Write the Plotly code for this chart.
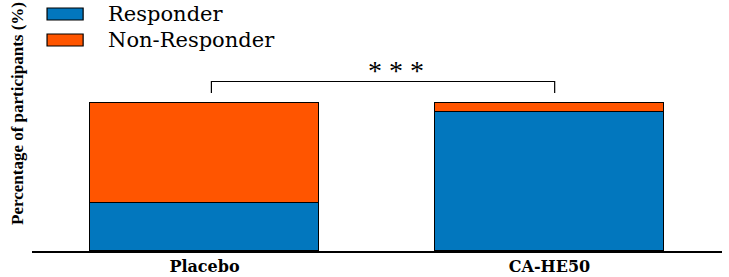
import plotly.graph_objects as go

groups = ["Placebo", "CA-HE50"]
responder = [32.4, 94.1]
non_responder = [67.6, 5.9]
series_names = ["Responder", "Non-Responder"]
colors = ["#0277BE", "#FF5500"]
sig_label = "* * *"

fig = go.Figure()
fig.add_trace(go.Bar(x=groups, y=responder, name=series_names[0],
                     marker=dict(color=colors[0], line=dict(color="black", width=1.2)),
                     width=0.666, showlegend=False))
fig.add_trace(go.Bar(x=groups, y=non_responder, name=series_names[1],
                     marker=dict(color=colors[1], line=dict(color="black", width=1.2)),
                     width=0.666, showlegend=False))

# significance bracket
fig.add_shape(type="path", xref="x", yref="y",
              path="M 0.02,106.6 L 0.02,114.4 L 1.015,114.4 L 1.015,106.6",
              line=dict(color="black", width=1.2))
fig.add_annotation(x=0.555, y=122, xref="x", yref="y", text=sig_label, showarrow=False,
                   font=dict(family="Liberation Serif", size=28, color="black"))

# custom legend
leg_y = [1.185, 1.055]
for name, col, yc in zip(series_names, colors, leg_y):
    fig.add_shape(type="rect", xref="paper", yref="paper",
                  x0=0.0218, x1=0.0741, y0=yc - 0.03, y1=yc + 0.03,
                  fillcolor=col, line=dict(color="black", width=1.2))
    fig.add_annotation(x=0.1076, y=yc, xref="paper", yref="paper", text=name,
                       showarrow=False, xanchor="left", yanchor="middle",
                       font=dict(family="DejaVu Serif", size=21, color="black"))

# y-axis title
fig.add_annotation(x=-0.0218, y=0.69, xref="paper", yref="paper",
                   text="<b>Percentage of participants (%)</b>", textangle=-90,
                   showarrow=False, xanchor="center", yanchor="middle",
                   font=dict(family="Liberation Serif", size=17, color="black"))

fig.update_layout(
    barmode="stack",
    width=729, height=277,
    margin=dict(l=32, r=7, t=51, b=26, autoexpand=False),
    plot_bgcolor="white", paper_bgcolor="white",
    bargap=0,
)
fig.update_xaxes(range=[-0.5, 1.5], showline=True, linecolor="black", linewidth=1.5,
                 ticks="", showgrid=False, zeroline=False, automargin=False,
                 tickfont=dict(family="DejaVu Serif", size=16, color="black"),
                 ticklabelstandoff=0)
fig.update_xaxes(tickvals=groups, ticktext=["<b>" + g + "</b>" for g in groups])
fig.update_yaxes(range=[0, 135], visible=False, automargin=False)

fig.write_html("out.html")
